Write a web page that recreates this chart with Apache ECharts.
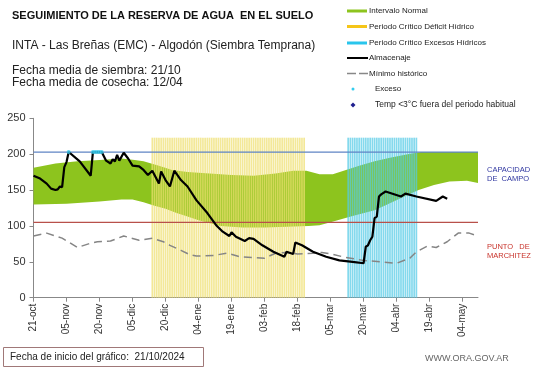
<!DOCTYPE html>
<html><head><meta charset="utf-8">
<script src="https://cdn.jsdelivr.net/npm/echarts@6/dist/echarts.min.js"></script>
<style>html,body{margin:0;padding:0;background:#fff}#c{width:541px;height:368px}</style>
</head><body><div id="c"></div>
<script>
// ---- data (x = days since 21-oct) ----
const tickLabels = ['21-oct','05-nov','20-nov','05-dic','20-dic','04-ene','19-ene','03-feb','18-feb','05-mar','20-mar','04-abr','19-abr','04-may'];
const tickStep = 15;
const lastDay = 202;
const normalHigh = [[0,181],[10,187],[20,190],[30,192],[40,194],[46,192],[50,190],[57,184],[63,178],[70,175],[80,173],[90,171],[100,170],[110,173],[118,177],[124,177],[130,172],[136,172],[142,178],[148,184],[155,190],[162,195],[170,200],[176,203],[202,203]];
const normalLow = [[0,130],[15,131],[30,134],[40,137],[45,137],[50,133],[55,128],[60,124],[65,118],[70,113],[75,108],[85,100],[95,98],[105,98],[115,99],[125,100],[130,101],[135,105],[145,114],[155,122],[160,129],[170,143],[175,150],[182,157],[189,162],[197,163],[202,160]];
const minHistorico = [[0,86],[6,90],[13,83],[20,70],[25,75],[29,78],[35,79],[41,86],[48,80],[54,83],[59,78],[62,73],[67,66],[71,60],[74,58],[82,59],[88,62],[94,57],[100,56],[105,55],[110,62],[115,63],[120,61],[127,62],[131,63],[135,61],[142,56],[150,52],[158,50],[165,48],[171,55],[174,64],[179,72],[183,70],[188,78],[193,90],[198,90],[202,86]];
const almacenaje = [[0,170],[3,166],[6,159],[8,152],[10,150],[11,151],[12,155],[13,154],[14,182],[15,189],[16,203],[21,190],[26,170],[27,203],[31,203],[33,191],[35,187],[36,193],[37,190],[38,199],[39,191],[41,202],[43,194],[45,184],[48,183],[50,178],[52,171],[54,177],[57,159],[58,176],[60,164],[62,155],[64,177],[67,164],[70,155],[74,136],[79,118],[83,101],[86,92],[89,86],[90,91],[92,85],[96,79],[98,83],[100,82],[104,73],[109,64],[114,57],[115,64],[118,61],[119,77],[122,73],[127,64],[133,57],[139,52],[145,50],[150,48],[151,71],[152,73],[153,80],[154,85],[155,111],[156,113],[157,141],[158,144],[160,148],[167,141],[169,145],[174,141],[183,135],[186,141],[188,138]];
const exceso = [[16,203],[27,203],[28,203],[29,203],[30,203],[31,203]];
const deficitPeriod = [54,123];
const excessPeriod = [143,174];
const periodBarValue = 223;
const capacidadCampo = 203;
const puntoMarchitez = 105;

// ---- build ----
const stripes = [];
[[deficitPeriod,'#efdf70'],[excessPeriod,'#55cbe6']].forEach(function(pc){
  for (let d = pc[0][0]; d <= pc[0][1]; d++) stripes.push({value:[d, periodBarValue], itemStyle:{color:pc[1]}});
});
const tickValues = tickLabels.map(function(_, i){ return i * tickStep; });
const F = '"Liberation Sans", Arial, sans-serif';

const chart = echarts.init(document.getElementById('c'));
function txt(text, x, y, size, color, extra) {
  return {type:'text', silent:true, style:{text:text, x:x, y:y, font:(extra||'') + size + 'px ' + F, fill:color, textVerticalAlign:'middle'}};
}
const graphics = [
  txt('SEGUIMIENTO DE LA RESERVA DE AGUA  EN EL SUELO', 12, 15.5, 11, '#111', 'bold '),
  txt('INTA - Las Breñas (EMC) - Algodón (Siembra Temprana)', 12, 46, 12, '#222'),
  txt('Fecha media de siembra: 21/10', 12, 70.5, 12, '#222'),
  txt('Fecha media de cosecha: 12/04', 12, 82.5, 12, '#222'),
  // legend
  {type:'rect', silent:true, shape:{x:347, y:9.5, width:20, height:3}, style:{fill:'#8dc41e'}},
  txt('Intervalo Normal', 369, 11, 8, '#222'),
  {type:'rect', silent:true, shape:{x:347, y:25, width:20, height:3}, style:{fill:'#f5c518'}},
  txt('Periodo Crítico Déficit Hídrico', 369, 26.5, 8, '#222'),
  {type:'rect', silent:true, shape:{x:347, y:41.5, width:20, height:3}, style:{fill:'#29c5ec'}},
  txt('Periodo Crítico Excesos Hídricos', 369, 43, 8, '#222'),
  {type:'line', silent:true, shape:{x1:347, y1:58, x2:368, y2:58}, style:{stroke:'#000', lineWidth:2}},
  txt('Almacenaje', 369, 58, 8, '#222'),
  {type:'line', silent:true, shape:{x1:347, y1:73.5, x2:368, y2:73.5}, style:{stroke:'#888', lineWidth:1.5, lineDash:[9,3]}},
  txt('Mínimo histórico', 369, 73.5, 8, '#222'),
  {type:'circle', silent:true, shape:{cx:353, cy:89, r:1.5}, style:{fill:'#33ccee'}},
  txt('Exceso', 375, 89, 8, '#222'),
  {type:'polygon', silent:true, shape:{points:[[353,102.5],[355.5,105],[353,107.5],[350.5,105]]}, style:{fill:'#1f1f8f'}},
  txt('Temp <3°C fuera del periodo habitual', 375, 105, 8.5, '#222'),
  // right labels
  txt('CAPACIDAD', 487, 170, 7.5, '#2f36a0'),
  txt('DE  CAMPO', 487, 178.5, 7.5, '#2f36a0'),
  txt('PUNTO   DE', 487, 247, 7.5, '#c8332b'),
  txt('MARCHITEZ', 487, 256, 7.5, '#c8332b'),
  // bottom
  {type:'rect', silent:true, shape:{x:3.5, y:347.5, width:200, height:19}, style:{fill:'#fff', stroke:'#a07878', lineWidth:1}},
  txt('Fecha de inicio del gráfico:  21/10/2024', 10, 357.5, 10, '#222'),
  txt('WWW.ORA.GOV.AR', 425, 359, 9, '#666')
];

chart.setOption({
  animation:false,
  backgroundColor:'#fff',
  grid:{left:33.5, right:63, top:118.3, bottom:70.3, containLabel:false, outerBoundsMode:'none'},
  xAxis:{
    type:'value', min:0, max:lastDay,
    axisLine:{show:true, lineStyle:{color:'#888', width:1}},
    axisTick:{show:true, length:4, customValues:tickValues, lineStyle:{color:'#888'}},
    axisLabel:{customValues:tickValues, rotate:90, fontSize:10, fontFamily:F, color:'#333', margin:6,
      formatter:function(v){ return tickLabels[Math.round(v / tickStep)] || ''; }},
    splitLine:{show:false}
  },
  yAxis:{
    type:'value', min:0, max:250, interval:50,
    name:'Milímetros', nameLocation:'middle', nameRotate:90, nameGap:26,
    nameTextStyle:{fontSize:7, fontFamily:F, color:'#333'},
    axisLine:{show:true, lineStyle:{color:'#888', width:1}},
    axisTick:{show:true, length:4, lineStyle:{color:'#888'}},
    axisLabel:{fontSize:11, fontFamily:F, color:'#333', margin:8},
    splitLine:{show:false}
  },
  graphic:graphics,
  series:[
    {type:'custom', z:2, silent:true, data:[[0,0]],
      renderItem:function(params, api){
        const pts = normalHigh.map(function(p){return api.coord(p);})
          .concat(normalLow.slice().reverse().map(function(p){return api.coord(p);}));
        return {type:'polygon', shape:{points:pts}, style:{fill:'#8dc41e'}};
      }},
    {type:'bar', z:3, silent:true, barWidth:1.7, data:stripes, itemStyle:{opacity:0.72}},
    {type:'line', z:4, silent:true, symbol:'none', data:[[0,capacidadCampo],[lastDay,capacidadCampo]], lineStyle:{color:'#5f84c4', width:1.2}},
    {type:'line', z:4, silent:true, symbol:'none', data:[[0,puntoMarchitez],[lastDay,puntoMarchitez]], lineStyle:{color:'#b8504a', width:1.2}},
    {type:'line', z:5, silent:true, symbol:'none', data:minHistorico, lineStyle:{color:'#858585', width:1.5, type:[8,5]}},
    {type:'line', z:6, silent:true, symbol:'none', data:almacenaje, lineStyle:{color:'#000', width:2.2}},
    {type:'scatter', z:7, silent:true, symbol:'circle', symbolSize:4, data:exceso, itemStyle:{color:'#38c8ec'}}
  ]
});
</script></body></html>
